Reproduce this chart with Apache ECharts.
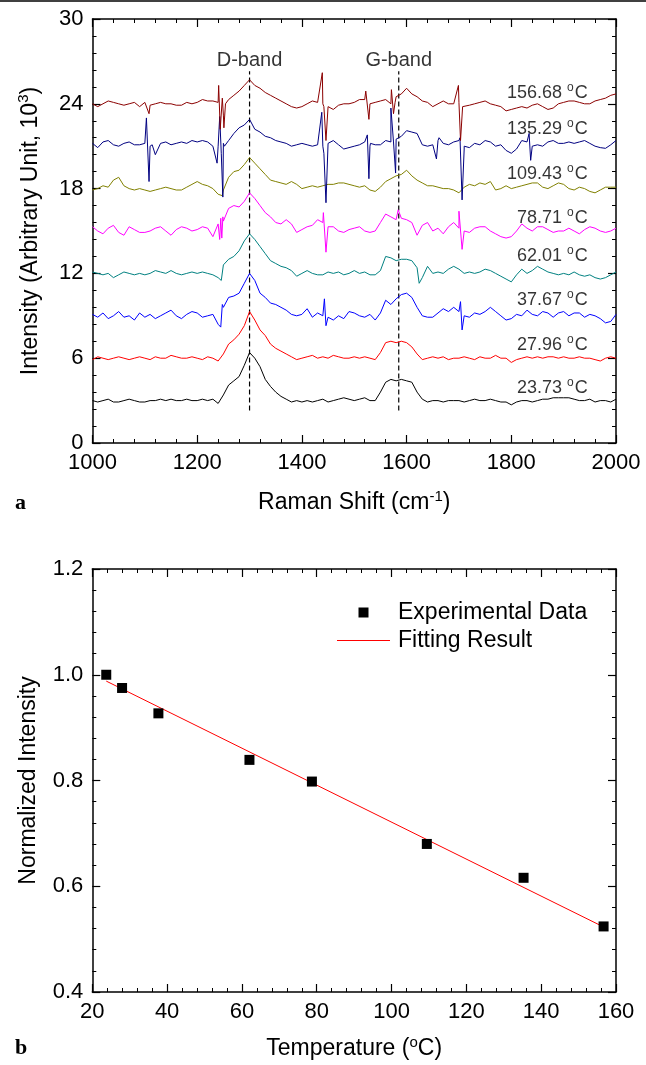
<!DOCTYPE html>
<html>
<head>
<meta charset="utf-8">
<script src="https://cdn.jsdelivr.net/npm/echarts@6/dist/echarts.min.js"></script>
<style>
html,body{margin:0;padding:0;background:#fff;}
#chart{width:646px;height:1065px;}
</style>
</head>
<body>
<div id="chart"></div>
<script>
// ---------- Panel (a): Raman spectra ----------
const ramanShift = [1000,1010,1020,1030,1040,1050,1060,1070,1080,1090,
 1100,1110,1120,1130,1140,1150,1160,1170,1180,1190,
 1200,1210,1220,1230,1240,1250,1260,1270,1280,1290,
 1300,1310,1320,1330,1340,1350,1360,1370,1380,1390,
 1400,1410,1420,1430,1440,1450,1460,1470,1480,1490,
 1500,1510,1520,1530,1540,1550,1560,1570,1580,1590,
 1600,1610,1620,1630,1640,1650,1660,1670,1680,1690,
 1700,1710,1720,1730,1740,1750,1760,1770,1780,1790,
 1800,1810,1820,1830,1840,1850,1860,1870,1880,1890,
 1900,1910,1920,1930,1940,1950,1960,1970,1980,1990,2000];

const temps = ['23.73','27.96','37.67','62.01','78.71','109.43','135.29','156.68'];
const colors = ['#000000','#ff0000','#0000ff','#008080','#ff00ff','#808000','#000080','#8b0000'];
const labelY = [3.9, 6.9, 10.1, 13.2, 15.9, 19.0, 22.2, 24.75];
const labelX = 1946;

const int2373 = [3.0,2.9,3.0,3.1,2.9,2.9,3.0,3.1,3.0,2.9,
 2.9,3.0,3.0,3.1,3.0,3.1,3.0,3.0,3.1,3.0,
 3.0,3.1,3.0,3.1,2.8,3.4,4.1,4.4,4.7,5.5,
 6.4,6.0,5.4,4.5,4.0,3.6,3.3,3.1,2.9,3.0,
 2.9,3.0,2.9,3.0,3.1,2.9,3.0,3.1,3.2,3.1,
 3.0,3.1,3.2,3.0,3.0,3.6,4.3,4.5,4.4,4.5,
 4.4,4.3,3.6,3.1,2.9,3.0,3.0,2.9,3.0,3.0,
 3.0,2.9,3.0,3.1,3.0,3.0,3.1,3.0,2.9,2.9,
 2.7,2.9,3.0,3.0,2.9,3.0,3.1,3.1,3.2,3.2,
 3.2,3.2,3.1,3.0,3.0,3.1,2.9,3.0,3.0,2.9,3.1];
const int2796 = [5.9,6.1,6.0,5.9,6.0,6.1,6.0,5.9,6.0,6.1,
 6.0,5.9,6.1,6.0,6.0,6.2,6.1,6.0,6.0,6.1,
 6.0,5.9,6.1,6.0,5.8,6.3,7.0,7.3,7.7,8.3,
 9.3,8.7,8.0,7.6,7.0,6.7,6.5,6.3,6.1,5.9,
 6.0,6.1,6.2,6.0,6.1,6.0,6.2,6.1,6.0,6.0,
 6.1,6.0,6.1,6.0,5.9,6.4,7.1,7.2,7.1,7.2,
 7.1,6.8,6.3,5.9,6.0,6.1,6.0,6.1,5.9,6.0,
 6.0,6.1,6.0,5.9,6.1,6.0,6.0,6.2,6.0,6.0,
 5.7,5.9,6.0,6.1,6.0,6.1,6.0,6.1,6.1,6.0,
 6.1,6.0,6.0,6.1,6.0,6.0,5.9,5.8,6.0,6.1,6.0];
const int3767 = [9.1,8.9,9.2,8.8,9.0,9.3,8.9,9.0,8.7,9.2,
 8.9,9.1,8.8,9.0,9.2,9.4,9.0,8.8,9.1,9.3,
 9.2,8.9,9.0,9.1,8.4,9.6,10.3,10.4,10.6,11.3,
 12.0,11.5,10.6,10.3,9.9,9.8,9.6,9.4,9.1,9.0,
 9.1,9.5,8.9,9.2,9.0,8.9,8.7,9.0,8.8,9.3,
 9.2,9.0,8.9,9.1,8.7,9.2,10.1,9.8,10.2,10.5,
 10.6,10.3,9.6,9.0,8.9,8.9,9.2,9.5,9.3,9.6,
 9.3,9.0,8.9,9.2,9.1,9.3,9.6,9.3,9.0,8.7,
 8.8,9.1,9.0,9.4,9.1,9.0,9.3,9.2,8.9,9.2,
 9.3,9.0,9.2,9.2,8.9,9.1,9.0,8.8,8.5,8.6,9.1];
const int6201 = [12.1,12.0,11.9,12.0,11.7,11.9,12.1,12.0,11.9,12.0,
 11.9,12.0,12.2,12.1,12.0,12.2,12.0,11.9,12.0,12.1,
 12.0,12.1,12.0,11.9,11.7,12.6,13.0,13.2,13.6,14.3,
 14.8,14.4,13.9,13.4,12.9,12.7,12.5,12.4,12.2,11.8,
 12.0,12.2,12.0,11.9,11.9,12.1,12.0,12.1,11.9,12.0,
 12.2,12.0,12.1,11.9,11.9,12.2,13.2,13.1,12.9,13.0,
 13.0,12.9,12.4,11.7,12.5,12.0,12.1,12.0,12.3,12.5,
 12.3,12.0,12.1,12.0,12.1,12.3,12.2,12.0,11.8,11.6,
 11.4,11.9,12.3,12.0,12.2,12.5,12.3,12.1,12.0,11.9,
 12.0,11.9,12.1,11.9,11.8,11.9,11.7,11.6,11.7,11.9,12.1];
const int7871 = [15.3,15.0,14.8,15.2,15.4,14.9,14.7,15.3,15.1,14.9,
 14.9,15.0,15.2,15.3,15.0,14.7,15.1,15.3,15.2,15.0,
 15.1,15.3,15.2,14.6,15.5,15.7,16.6,16.8,16.7,17.1,
 17.7,17.3,16.8,16.3,16.0,15.6,15.5,15.8,15.5,14.9,
 15.1,15.3,15.4,15.8,15.6,15.3,15.3,15.0,14.9,15.1,
 15.2,15.3,15.0,14.9,15.0,15.6,16.2,16.0,15.8,15.9,
 15.8,15.6,14.7,15.4,15.6,15.0,15.2,14.8,15.3,15.6,
 15.2,15.0,14.9,15.2,15.3,15.3,15.0,14.8,14.6,14.5,
 14.6,15.0,15.5,15.2,15.0,15.3,15.3,15.1,14.9,15.0,
 15.0,15.2,15.0,14.8,15.1,15.3,15.2,15.0,14.9,15.0,15.2];
const int10943 = [17.9,18.0,18.2,18.1,18.6,18.8,18.2,18.0,17.9,18.0,
 17.9,17.8,17.9,18.0,18.1,18.0,17.9,17.9,18.1,18.3,
 18.5,18.3,18.2,18.0,17.6,17.9,18.8,19.2,19.3,19.7,
 20.2,19.8,19.4,19.0,18.6,18.5,18.4,18.3,18.5,18.3,
 18.0,18.1,18.2,18.1,18.2,18.3,18.3,18.4,18.4,18.3,
 18.2,18.1,18.2,17.9,17.8,18.1,18.5,18.7,18.9,19.0,
 19.3,18.9,18.6,18.4,18.2,18.2,18.1,18.0,18.0,17.9,
 17.7,18.1,18.3,18.2,18.4,18.3,18.5,17.9,18.0,18.2,
 18.0,18.1,18.2,18.3,18.4,18.4,18.1,18.0,18.2,18.4,
 18.3,18.0,17.9,18.1,18.0,17.8,17.7,17.9,18.1,18.1,18.1];
const int13529 = [21.2,20.9,21.3,21.4,21.1,21.0,21.2,21.3,21.1,21.1,
 21.2,21.0,20.4,21.2,21.3,21.1,21.2,21.3,21.2,21.4,
 21.3,21.4,21.3,21.0,21.0,21.2,21.4,21.9,22.3,22.5,
 22.9,22.2,22.0,21.7,21.6,21.4,21.3,21.2,21.0,21.1,
 21.2,21.1,21.0,21.1,21.0,21.2,21.4,21.1,20.8,20.9,
 21.0,21.1,21.3,21.0,21.1,21.1,21.4,21.3,21.5,21.7,
 22.1,22.0,21.9,21.1,21.0,21.1,21.4,21.2,21.1,21.3,
 21.4,20.8,20.9,21.2,21.1,21.4,21.3,21.0,21.1,20.7,
 20.5,20.8,21.4,21.3,21.0,21.1,21.0,21.3,21.4,21.2,
 21.2,21.3,21.2,21.3,21.4,21.2,21.0,20.9,20.85,21.1,21.4];
const int15668 = [24.0,23.8,24.0,24.2,24.1,24.0,23.9,24.0,24.1,23.8,
 24.1,23.9,24.0,24.1,24.0,24.0,23.9,23.9,24.1,24.0,
 24.1,24.3,24.2,24.2,24.1,23.2,24.3,24.6,24.9,25.3,
 25.7,25.3,25.1,24.8,24.6,24.4,24.2,24.0,23.8,23.7,
 23.8,24.0,24.2,24.1,24.0,23.8,23.6,23.9,24.0,24.0,
 24.1,24.3,24.3,24.0,24.1,24.2,24.3,24.0,24.5,24.7,
 25.1,24.7,24.5,24.2,24.1,23.8,24.0,24.2,24.0,24.0,
 24.1,23.7,23.9,24.0,24.1,24.2,24.0,23.9,23.8,23.5,
 23.6,23.7,23.8,23.7,23.9,24.0,23.8,23.6,23.7,24.0,
 24.1,24.2,24.2,24.1,24.0,24.0,24.2,24.3,24.4,24.6,24.7];

// narrow spikes (cosmic-ray-like): [shift, intensity]
const spikes2373 = [];
const spikes2796 = [];
const spikes3767 = [[1245,8.2],[1248,9.8],[1443,10.2],[1446,8.3],[1703,10.0],[1706,8.0]];
const spikes6201 = [[1246,11.5],[1624,11.3]];
const spikes7871 = [[1243,14.4],[1245,15.9],[1247,14.5],[1249,16.0],[1441,16.3],[1446,13.5],[1584,16.5],[1700,16.4],[1706,13.7]];
const spikes10943 = [[1248,17.5]];
const spikes13529 = [[1103,23.0],[1108,18.5],[1114,21.1],[1238,19.8],[1243,23.1],[1246,20.5],[1249,17.4],[1252,21.0],
 [1438,23.4],[1442,20.5],[1446,17.0],[1525,21.8],[1528,18.7],[1531,21.2],[1570,23.7],[1575,21.3],[1579,19.1],[1583,21.6],
 [1657,20.1],[1662,21.6],[1702,21.6],[1706,17.2],[1710,21.0],[1834,21.9],[1837,20.0]];
const spikes15668 = [[1108,23.3],[1241,25.3],[1244,22.2],[1248,24.4],[1251,22.3],[1254,24.0],
 [1439,26.2],[1442,23.8],[1446,21.4],[1522,24.9],[1528,22.9],[1532,24.0],[1571,25.0],[1575,23.3],[1578,24.1],
 [1699,25.3],[1703,21.4],[1707,23.8]];

const spectra = [int2373,int2796,int3767,int6201,int7871,int10943,int13529,int15668];
const spikes = [spikes2373,spikes2796,spikes3767,spikes6201,spikes7871,spikes10943,spikes13529,spikes15668];

const bandNames = ['D-band','G-band'];
const bandShift = [1300, 1585];
const bandLineRange = [2.3, 26.3];
const bandLabelY = 27.1;

// ---------- Panel (b): normalized intensity ----------
const temperature = [23.73, 27.96, 37.67, 62.01, 78.71, 109.43, 135.29, 156.68];
const normIntensity = [1.0, 0.975, 0.927, 0.839, 0.798, 0.680, 0.616, 0.524];
const fitT = [23.73, 156.68];
const fitI = [0.988, 0.523];

// ---------- build ----------
const FONT = 'Liberation Sans';
function merge(ys, sp){
  const pts = ramanShift.map((x,i)=>[x, ys[i]]);
  return pts.concat(sp).sort((a,b)=>a[0]-b[0]);
}
const axisLineStyle = {show:true, onZero:false, lineStyle:{color:'#000', width:1.5}};
const tick = {show:true, inside:true, length:8, lineStyle:{color:'#000', width:1.2}};
const minor = {show:true, splitNumber:5, length:4, lineStyle:{color:'#000', width:1}};
const lbl = {fontSize:22, color:'#000', fontFamily:FONT, margin:9, formatter:v=>String(v)};
const supRich = {
  t:{fontSize:23, fontFamily:FONT, color:'#000'},
  s:{fontSize:15, fontFamily:FONT, color:'#000', padding:[0,0,13,0]}
};

const series = [];
spectra.forEach((ys, k) => {
  series.push({
    type:'line', xAxisIndex:0, yAxisIndex:0, data: merge(ys, spikes[k]),
    showSymbol:false, symbol:'none', lineStyle:{color:colors[k], width:1}, silent:true, z:3
  });
});
bandShift.forEach((b) => {
  series.push({
    type:'line', xAxisIndex:0, yAxisIndex:0, data:[[b, bandLineRange[0]],[b, bandLineRange[1]]],
    symbol:'none', lineStyle:{color:'#000', width:1.2, type:[5,3]}, z:2
  });
});
series.push({
  type:'scatter', xAxisIndex:0, yAxisIndex:0, symbolSize:0,
  data: bandNames.map((n,i)=>({name:n, value:[bandShift[i], bandLabelY]})),
  label:{show:true, position:'inside', formatter:p=>p.name, fontSize:20, fontFamily:FONT, color:'#000'}
});
series.push({
  type:'scatter', xAxisIndex:0, yAxisIndex:0, symbolSize:0,
  data: temps.map((t,i)=>({name:t, value:[labelX, labelY[i]]})),
  label:{show:true, position:'left', distance:0,
    formatter:p=>'{a|'+p.name+' }{s|o}{a|C}',
    rich:{a:{fontSize:18, fontFamily:FONT, color:'#000'}, s:{fontSize:12, fontFamily:FONT, color:'#000', padding:[0,1,11,0]}}}
});
series.push({
  name:'Experimental Data', type:'scatter', xAxisIndex:2, yAxisIndex:2,
  data: temperature.map((t,i)=>[t, normIntensity[i]]),
  symbol:'rect', symbolSize:10, itemStyle:{color:'#000', opacity:1}, z:4
});
series.push({
  name:'Fitting Result', type:'line', xAxisIndex:2, yAxisIndex:2,
  data: fitT.map((t,i)=>[t, fitI[i]]),
  symbol:'none', showSymbol:false, lineStyle:{color:'#ff0000', width:1}, itemStyle:{color:'#ff0000'}, z:3
});

const option = {
  animation:false,
  backgroundColor:'#fff',
  textStyle:{fontFamily:FONT},
  grid:[
    {left:92.5, top:19, width:523.5, height:424},
    {left:92.3, top:569, width:523.7, height:423}
  ],
  legend:{
    left:332, top:596, orient:'vertical', itemWidth:53, itemHeight:10, itemGap:5,
    textStyle:{fontSize:23, fontFamily:FONT, color:'#000', padding:[0,0,0,3]},
    data:[{name:'Experimental Data', icon:'path://M0,0H10V10H0Z', itemStyle:{color:'#000', opacity:1}},
          {name:'Fitting Result', icon:'path://M0,0H52V1.2H0Z', itemStyle:{color:'#ff0000'}}]
  },
  xAxis:[
    {type:'value', gridIndex:0, position:'bottom', min:1000, max:2000, interval:200,
     axisLine:axisLineStyle, axisTick:tick, minorTick:minor, splitLine:{show:false},
     axisLabel:lbl, name:'{t|Raman Shift (cm}{s|-1}{t|)}', nameLocation:'middle', nameGap:46,
     nameTextStyle:{rich:supRich}},
    {type:'value', gridIndex:0, position:'top', min:1000, max:2000, interval:200,
     axisLine:axisLineStyle, axisTick:tick, minorTick:minor, splitLine:{show:false}, axisLabel:{show:false}},
    {type:'value', gridIndex:1, position:'bottom', min:20, max:160, interval:20,
     axisLine:axisLineStyle, axisTick:tick, minorTick:minor, splitLine:{show:false},
     axisLabel:lbl, name:'{t|Temperature (}{s|o}{t|C)}', nameLocation:'middle', nameGap:43,
     nameTextStyle:{rich:supRich}},
    {type:'value', gridIndex:1, position:'top', min:20, max:160, interval:20,
     axisLine:axisLineStyle, axisTick:tick, minorTick:minor, splitLine:{show:false}, axisLabel:{show:false}}
  ],
  yAxis:[
    {type:'value', gridIndex:0, position:'left', min:0, max:30, interval:6,
     axisLine:axisLineStyle, axisTick:tick, minorTick:minor, splitLine:{show:false},
     axisLabel:lbl, name:'{t|Intensity (Arbitrary Unit, 10}{s|3}{t|)}', nameLocation:'middle', nameGap:48,
     nameRotate:90, nameTextStyle:{rich:supRich}},
    {type:'value', gridIndex:0, position:'right', min:0, max:30, interval:6,
     axisLine:axisLineStyle, axisTick:tick, minorTick:minor, splitLine:{show:false}, axisLabel:{show:false}},
    {type:'value', gridIndex:1, position:'left', min:0.4, max:1.2, interval:0.2,
     axisLine:axisLineStyle, axisTick:tick, minorTick:minor, splitLine:{show:false},
     axisLabel:Object.assign({}, lbl, {formatter:v=>v.toFixed(1)}),
     name:'Normalized Intensity', nameLocation:'middle', nameGap:52, nameRotate:90,
     nameTextStyle:{fontSize:23, fontFamily:FONT, color:'#000'}},
    {type:'value', gridIndex:1, position:'right', min:0.4, max:1.2, interval:0.2,
     axisLine:axisLineStyle, axisTick:tick, minorTick:minor, splitLine:{show:false}, axisLabel:{show:false}}
  ],
  graphic:[
    {type:'line', shape:{x1:0, y1:1, x2:646, y2:1}, style:{stroke:'#000', lineWidth:1.5}},
    {type:'text', left:15, top:492, style:{text:'a', font:'bold 22px "Liberation Serif"', fill:'#000'}},
    {type:'text', left:15, top:1037, style:{text:'b', font:'bold 22px "Liberation Serif"', fill:'#000'}}
  ],
  series: series
};
const chart = echarts.init(document.getElementById('chart'), null, {renderer:'canvas'});
chart.setOption(option);
</script>
</body>
</html>
